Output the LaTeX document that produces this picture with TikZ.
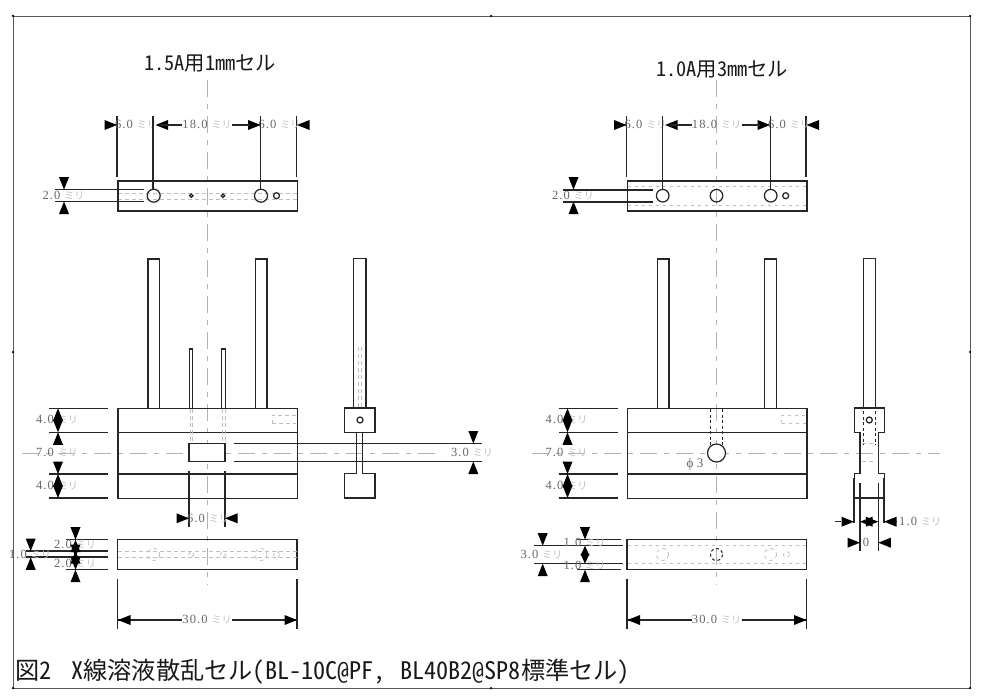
\documentclass[tikz,border=0pt]{standalone}
\usepackage{fontspec}
\setmainfont{Liberation Serif}
\newfontfamily\cjk[RawFeature=+hwid]{Noto Sans CJK JP}
\newfontfamily\dimf[LetterSpace=9]{Liberation Serif}
\newcommand\mmtxt[1]{{\dimf #1}\hspace{4pt}{\cjk\fontsize{10}{10}\selectfont\color{gray!50}ミリ}}
\newcommand\TriD[2]{\fill[black] (#1,#2) -- ++(-5,-12.5) -- ++(10,0) -- cycle;}
\newcommand\TriU[2]{\fill[black] (#1,#2) -- ++(-5,12.5) -- ++(10,0) -- cycle;}
\newcommand\TriR[2]{\fill[black] (#1,#2) -- ++(-12.5,-5) -- ++(0,10) -- cycle;}
\newcommand\TriL[2]{\fill[black] (#1,#2) -- ++(12.5,-5) -- ++(0,10) -- cycle;}
\tikzset{
  x=1pt,y=-1pt,
  part/.style={draw=black!85,line width=1.25pt},
  ext/.style={draw=black!85,line width=1.1pt},
  hid/.style={draw=gray!50,line width=0.8pt,dash pattern=on 3.5pt off 3.5pt},
  hidk/.style={draw=black!85,line width=1pt,dash pattern=on 3pt off 2.5pt},
  ctr/.style={draw=gray!60,line width=0.8pt,dash pattern=on 17pt off 7pt on 5pt off 7pt},
  dimt/.style={inner sep=0pt,text=black!60,font=\dimf\fontsize{12.5}{12.5}\selectfont},
  ttl/.style={inner sep=0pt,anchor=west,font=\cjk,text=black!90},
  dot/.style={fill=black,minimum size=2.5pt,inner sep=0pt,circle}
}
% common parts of the two cells; #1 = name suffix
\newcommand\topdims[1]{
  \foreach \xa/\ya in {117/177,296.5/177}{\draw[ext] (\xa,116) -- (\xa,\ya);}
  \draw[part] (118,181) rectangle (297.5,211);
  \node[dimt] (ta#1) at (136,125) {\mmtxt{6.0}};
  \node[dimt] (tb#1) at (207,125) {\mmtxt{18.0}};
  \node[dimt] (tc#1) at (279.5,125) {\mmtxt{6.0}};
  \TriR{117}{125}\TriL{155.5}{125}\TriR{260.5}{125}\TriL{297}{125}
  \draw[ext] (160,125) -- (182,125);
  \draw[ext] (232,125) -- (250,125);
  \node[dimt] (td#1) at (63.5,196) {\mmtxt{2.0}};
  \TriD{64}{189.7}\TriU{64}{201.5}
}
\newcommand\frontdims[1]{
  \draw[part] (118,408.3) rectangle (297.5,498.3);
  \draw[part] (118,432.3) -- (297.5,432.3) (118,474) -- (297.5,474);
  \foreach \ya in {408.3,432.3,474,498}{\draw[ext] (49,\ya) -- (108,\ya);}
  \node[dimt] (fa#1) at (57,420) {\mmtxt{4.0}};
  \node[dimt] (fb#1) at (57,453) {\mmtxt{7.0}};
  \node[dimt] (fc#1) at (57,486) {\mmtxt{4.0}};
  \TriU{58}{408.3}\TriD{58}{432.3}\TriU{58}{432.3}
  \TriD{58}{474}\TriU{58}{474}\TriD{58}{498}
  \draw[part] (148,408.3) -- (148,259) -- (159.5,259) -- (159.5,408.3);
  \draw[part] (255.3,408.3) -- (255.3,259) -- (267,259) -- (267,408.3);
  \draw[hid] (272,423) -- (272,415) -- (296,415) (272,423) -- (296,423);
  \draw[ext] (117.5,579) -- (117.5,629) (297,579) -- (297,629);
  \node[dimt] (fd#1) at (207,620) {\mmtxt{30.0}};
  \draw[ext] (182,620) -- (118,620);
  \draw[ext] (232,620) -- (297,620);
  \TriL{118}{620}\TriR{297}{620}
  \draw[part] (117.5,539.7) rectangle (297,569.7);
}
\begin{document}
\begin{tikzpicture}
\useasboundingbox (0,0) rectangle (985,698);
\fill[white] (0,0) rectangle (985,698);
% sheet frame
\draw[draw=gray!70!black,line width=0.8pt] (13,16) rectangle (970,688);
\foreach \n/\xa/\ya in {a/13/16,b/491/16,c/970/16,d/13/352,e/970/352,f/13/688,g/491/688,h/970/688}
  \node[dot] (s\n) at (\xa,\ya) {};
% centre lines
\draw[ctr] (207,80) -- (207,585);
\draw[ctr] (716.5,80) -- (716.5,585);
\draw[ctr] (22,453) -- (440,453);
\draw[ctr] (532,453) -- (940,453);
% titles
\node[ttl,font=\cjk\fontsize{20.3}{20}\selectfont] (t1) at (144,64) {1.5A用1mmセル};
\node[ttl,font=\cjk\fontsize{20.3}{20}\selectfont] (t2) at (656,70) {1.0A用3mmセル};
\node[ttl,font=\cjk\fontsize{24.2}{24}\selectfont] (cap) at (15,672) {図2\hspace{20pt}X線溶液散乱セル(BL-10C@PF,\hspace{14pt}BL40B2@SP8標準セル)};

% ===== left cell =====
\draw[hid] (118,193.3) -- (297,193.3) (118,199) -- (297,199);
\topdims{L}
\draw[part] (153.7,195.7) circle (6.5) (261,195.7) circle (6.5) (276.5,195.7) circle (3);
\draw[part] (191.3,195.7) circle (1.7) (223,195.7) circle (1.7);
\draw[ext] (153,116) -- (153,189) (260.5,116) -- (260.5,189);
\draw[ext] (55,189.7) -- (144,189.7) (55,201.3) -- (144,201.3);
\frontdims{L}
\draw[part] (189.3,408.3) -- (189.3,349) -- (192.8,349) -- (192.8,408.3);
\draw[part] (221.8,408.3) -- (221.8,349) -- (225.5,349) -- (225.5,408.3);
\draw[hid] (190,409) -- (190,443) (192.5,409) -- (192.5,443) (222,409) -- (222,443) (225,409) -- (225,443);
\draw[part,fill=white] (189,443.5) rectangle (225,461.5);
\draw[ext] (234,443.5) -- (482,443.5) (234,461.5) -- (482,461.5);
\draw[ext] (189,471) -- (189,527) (225,471) -- (225,527);
\node[dimt] (f5L) at (208,518.3) {\mmtxt{6.0}};
\TriR{189}{518.3}\TriL{225}{518.3}
% left bottom view
\draw[hid] (118,551) -- (297,551) (118,557.5) -- (297,557.5);
\foreach \xa/\ra in {153.7/6,191.3/2.5,223/2.5,261/6,276.5/3}{\draw[hid] (\xa,554.5) circle (\ra);}
\foreach \ya in {539.7,569.7}{\draw[ext] (66,\ya) -- (108,\ya);}
\foreach \ya in {551,557}{\draw[ext] (26,\ya) -- (108,\ya);}
\node[dimt] (b1L) at (30,554.5) {\mmtxt{1.0}};
\node[dimt] (b2L) at (75,545) {\mmtxt{2.0}};
\node[dimt] (b3L) at (75,564) {\mmtxt{2.0}};
\TriD{30.7}{551}\TriU{30.7}{557.3}
\TriD{75.5}{539.7}\TriU{75.5}{539.7}\TriD{75.5}{557}\TriU{75.5}{551}\TriD{75.5}{569.7}\TriU{75.5}{569.7}
% left side view
\draw[part] (353.7,408) -- (353.7,258.5) -- (366,258.5) -- (366,408);
\draw[hid] (358,347) -- (358,408) (361.5,347) -- (361.5,408);
\draw[part] (344.7,408) rectangle (375,432.3);
\draw[part] (356.7,432.3) -- (356.7,473.3) -- (344.7,473.3) -- (344.7,498) -- (375,498) -- (375,473.3) -- (362.7,473.3) -- (362.7,432.3);
\draw[part] (360,420) circle (3);
\node[dimt] (s3L) at (472,453) {\mmtxt{3.0}};
\TriD{473.3}{443.5}\TriU{473.3}{461.5}

% ===== right cell =====
\begin{scope}[xshift=509.5pt]
\draw[hid] (118,186.7) -- (297,186.7) (118,205) -- (297,205);
\topdims{R}
\draw[part] (153.2,195.7) circle (6.3) (207,195.7) circle (6.3) (261.2,195.7) circle (6.3) (276.2,195.7) circle (3);
\draw[ext] (153.2,116) -- (153.2,189.5) (260.7,116) -- (260.7,189.5);
\draw[ext] (53.5,190) -- (143.5,190) (53.5,202) -- (143.5,202);
\frontdims{R}
\draw[hidk] (200.8,409) -- (200.8,446) (213.2,409) -- (213.2,446);
\draw[part,fill=white] (207,453) circle (9);
\node[dimt,font=\fontsize{13}{13}\selectfont] (phi) at (185.5,464) {ϕ 3};
% right bottom view
\draw[hid] (118,545.7) -- (297,545.7) (118,563.7) -- (297,563.7);
\foreach \xa/\ra in {153/6,261/6,277/3}{\draw[hid] (\xa,554.5) circle (\ra);}
\draw[hidk] (207,554.5) circle (6);
\foreach \ya in {539.7,569.7}{\draw[ext] (67.5,\ya) -- (111,\ya);}
\foreach \ya in {545.7,563.7}{\draw[ext] (24.5,\ya) -- (113.5,\ya);}
\node[dimt] (b1R) at (32,554.5) {\mmtxt{3.0}};
\node[dimt] (b2R) at (75,543) {\mmtxt{1.0}};
\node[dimt] (b3R) at (75,566) {\mmtxt{1.0}};
\TriD{33.2}{545.7}\TriU{33.2}{563.7}
\TriD{75.5}{539.7}\TriU{75.5}{569.7}
\fill[black] (75.5,545.7) -- ++(-4.5,10) -- ++(9,0) -- cycle;
\fill[black] (75.5,563.7) -- ++(-4.5,-10) -- ++(9,0) -- cycle;
\end{scope}
% right side view
\draw[part] (863.3,408) -- (863.3,258.5) -- (875.3,258.5) -- (875.3,408);
\draw[part] (854.5,408) -- (884.5,408) -- (884.5,432.3) -- (878.3,432.3) -- (878.3,473.3) -- (884.5,473.3) -- (884.5,498) -- (854.5,498) -- (854.5,473.3) -- (860,473.3) -- (860,432.3) -- (854.5,432.3) -- cycle;
\draw[part] (869.3,420) circle (3);
\draw[hidk] (863,411) -- (863,445) (875.5,411) -- (875.5,445);
\draw[hid] (862,443.5) -- (876,443.5) (862,461.5) -- (876,461.5);
\draw[ext] (854,478) -- (854,523) (884,478) -- (884,523);
\draw[ext] (860,483) -- (860,551) (878.3,483) -- (878.3,551);
\draw[ext] (835,521.7) -- (841,521.7) (897,521.7) -- (895,521.7);
\TriR{854}{521.7}\TriL{860}{521.7}\TriR{878.3}{521.7}\TriL{884}{521.7}
\node[dimt,anchor=west] (r1) at (899,521.7) {\mmtxt{1.0}};
\node[dimt] (r2) at (866,542.7) {0};
\TriR{860}{542.7}\TriL{878.3}{542.7}
\end{tikzpicture}
\end{document}
